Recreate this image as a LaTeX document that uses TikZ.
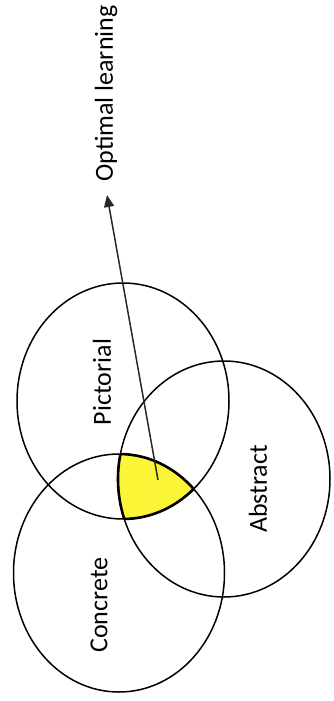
\documentclass[tikz,border=0pt]{standalone}
\usepackage{fontspec}
\setmainfont{Carlito}
\usetikzlibrary{arrows.meta}
\definecolor{venny}{RGB}{250,245,55}
\definecolor{arrowgray}{RGB}{40,40,40}
\tikzset{
  ring/.style={draw=black, line width=1.5pt},
  rim/.style={draw=black, line width=2.6pt},
  lbl/.style={rotate=90, font=\fontsize{26}{30}\selectfont, inner sep=0pt},
}
\begin{document}
\begin{tikzpicture}[x=1pt,y=1pt]
\useasboundingbox (0,0) rectangle (334,-701);
\coordinate (P) at (123,-401);
\coordinate (C) at (119,-573);
\coordinate (A) at (224,-479);
% yellow triple intersection
\begin{scope}
  \clip (P) ellipse [x radius=106, y radius=118];
  \clip (C) ellipse [x radius=105.5, y radius=119];
  \fill[venny] (A) ellipse [x radius=106, y radius=118];
\end{scope}
% thick outline of the yellow region
\begin{scope}
  \clip (P) ellipse [x radius=106, y radius=118];
  \clip (C) ellipse [x radius=105.5, y radius=119];
  \draw[rim] (A) ellipse [x radius=106, y radius=118];
\end{scope}
\begin{scope}
  \clip (A) ellipse [x radius=106, y radius=118];
  \clip (C) ellipse [x radius=105.5, y radius=119];
  \draw[rim] (P) ellipse [x radius=106, y radius=118];
\end{scope}
\begin{scope}
  \clip (A) ellipse [x radius=106, y radius=118];
  \clip (P) ellipse [x radius=106, y radius=118];
  \draw[rim] (C) ellipse [x radius=105.5, y radius=119];
\end{scope}
% circles
\draw[ring] (P) ellipse [x radius=106, y radius=118];
\draw[ring] (C) ellipse [x radius=105.5, y radius=119];
\draw[ring] (A) ellipse [x radius=106, y radius=118];
% labels
\node[lbl] (pict) at (102,-382) {Pictorial};
\node[lbl] (abst) at (258,-489) {Abstract};
\node[lbl] (conc) at (99,-605) {Concrete};
\node[lbl] (opt) at (106,-93.5) {Optimal learning};
% arrow
\coordinate (start) at (158,-480);
\coordinate (tip) at (107,-195);
\draw[arrowgray, line width=1.5pt, -{Triangle[length=12pt,width=10pt]}] (start) -- (tip);
\end{tikzpicture}
\end{document}
